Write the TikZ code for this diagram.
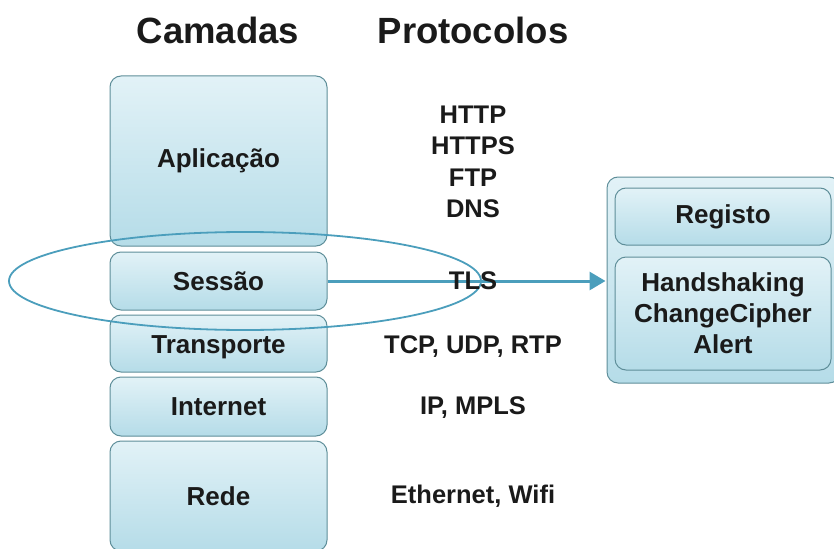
\documentclass[tikz,border=0pt]{standalone}
\usepackage{fontspec}
\setmainfont{Liberation Sans}
\usetikzlibrary{arrows.meta,calc}
\definecolor{boxline}{HTML}{5E8E99}
\definecolor{boxtop}{HTML}{E2F2F7}
\definecolor{boxbot}{HTML}{B5DCE8}
\definecolor{accent}{HTML}{4B9EBC}
\definecolor{ink}{HTML}{1A1A1A}
\tikzset{
  layerbox/.style={draw=boxline, line width=1pt, rounded corners=11pt,
    top color=boxtop, bottom color=boxbot, inner sep=0pt,
    font=\bfseries\fontsize{26}{31}\selectfont, text=ink, align=center},
  header/.style={font=\bfseries\fontsize{36.5}{42}\selectfont, text=ink},
  proto/.style={font=\bfseries\fontsize{25.5}{31.5}\selectfont, text=ink, align=center},
  ring/.style={draw=accent, line width=1.8pt},
  flow/.style={draw=accent, line width=3pt, -{Triangle[length=16pt,width=18pt]}},
}
\begin{document}
\begin{tikzpicture}[x=1pt,y=-1pt]
\useasboundingbox (0,0) rectangle (834,548);
\clip (0,0) rectangle (834,548);

% headings
\node[header] (hcam) at (218,30) {Camadas};
\node[header] (hpro) at (473,30) {Protocolos};

% layer stack
\node[layerbox, minimum width=217pt, minimum height=170pt] (apl) at (218.5,161) {Aplicação};
\node[layerbox, minimum width=217pt, minimum height=58pt] (ses) at (218.5,281) {Sessão};
\node[layerbox, minimum width=217pt, minimum height=57pt] (tra) at (218.5,343.5) {};
\node[font=\bfseries\fontsize{26}{31}\selectfont, text=ink, anchor=base] (tral) at (218.5,353) {Transporte};
\node[layerbox, minimum width=217pt, minimum height=59pt] (int) at (218.5,406.5) {Internet};
\node[layerbox, minimum width=217pt, minimum height=110pt] (red) at (218.5,496) {Rede};

% TLS sub-layers
\node[layerbox, minimum width=233pt, minimum height=206pt] (tls) at (723.5,280) {};
\node[layerbox, minimum width=216pt, minimum height=57pt] (reg) at (723,216.5) {Registo};
\node[layerbox, minimum width=216pt, minimum height=113pt] (hsk) at (723,313.5) {Handshaking\\ChangeCipher\\Alert};

% session highlight
\draw[ring] (245,281) ellipse [x radius=236pt, y radius=49pt];
\coordinate (tip) at (ses.east -| tls.west);
\draw[flow] (ses.east) -- ([xshift=-1pt]tip);

% protocols
\node[proto] (papl) at (473,162) {HTTP\\HTTPS\\FTP\\DNS};
\node[proto] (pses) at (473,281) {TLS};
\node[proto, anchor=base] (ptra) at (473,353) {TCP, UDP, RTP};
\node[proto] (pint) at (473,408) {IP, MPLS};
\node[proto] (pred) at (473,496) {Ethernet, Wifi};
\end{tikzpicture}
\end{document}
